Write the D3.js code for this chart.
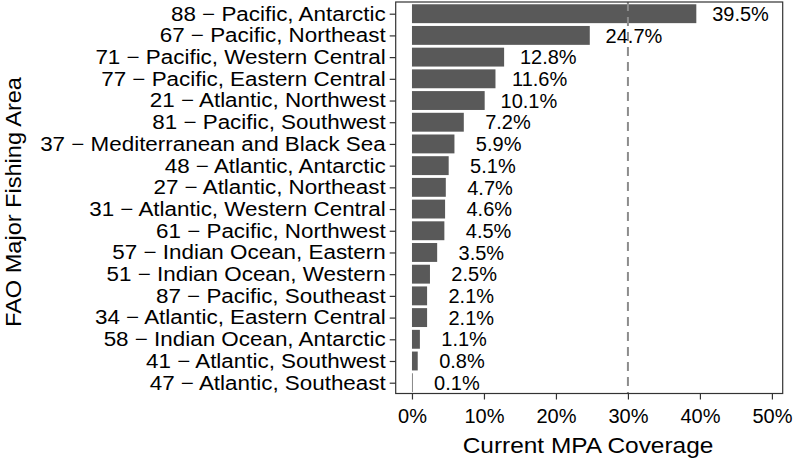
<!DOCTYPE html>
<html><head><meta charset="utf-8">
<script src="https://cdn.jsdelivr.net/npm/d3@7"></script>
<style>body{margin:0;background:#fff}svg{display:block}text{font-family:"Liberation Sans",Arial,sans-serif}</style>
</head><body><svg id="c" width="796" height="461"></svg>
<script>
const categories = ["88 \u2212 Pacific, Antarctic","67 \u2212 Pacific, Northeast","71 \u2212 Pacific, Western Central","77 \u2212 Pacific, Eastern Central","21 \u2212 Atlantic, Northwest","81 \u2212 Pacific, Southwest","37 \u2212 Mediterranean and Black Sea","48 \u2212 Atlantic, Antarctic","27 \u2212 Atlantic, Northeast","31 \u2212 Atlantic, Western Central","61 \u2212 Pacific, Northwest","57 \u2212 Indian Ocean, Eastern","51 \u2212 Indian Ocean, Western","87 \u2212 Pacific, Southeast","34 \u2212 Atlantic, Eastern Central","58 \u2212 Indian Ocean, Antarctic","41 \u2212 Atlantic, Southwest","47 \u2212 Atlantic, Southeast"];
const coverage = [39.5,24.7,12.8,11.6,10.1,7.2,5.9,5.1,4.7,4.6,4.5,3.5,2.5,2.1,2.1,1.1,0.8,0.1];
const xTicks = [0,10,20,30,40,50];
const target = 30;

const FONT = '"Liberation Sans",Arial,sans-serif';
const svg = d3.select("#c");
const panel = {l:395.7, r:782.7, t:2, b:393.5};
const x = d3.scaleLinear().domain([-2.26, 51.5]).range([panel.l, panel.r]);
const y = d3.scalePoint().domain(categories).range([13.7, 382.7]);
const bh = y.step()*0.87;

function stretch(sel, k){
  sel.each(function(){
    const w = this.getComputedTextLength();
    d3.select(this).attr("textLength", w*k).attr("lengthAdjust", "spacingAndGlyphs");
  });
}

svg.append("g").selectAll("rect").data(categories).join("rect")
  .attr("x", x(0)).attr("y", d=>y(d)-bh/2)
  .attr("width", (d,i)=>Math.max(0.6, x(coverage[i])-x(0)))
  .attr("height", bh).attr("fill", "#595959");

svg.append("line").attr("x1", x(target)).attr("x2", x(target))
  .attr("y1", panel.t).attr("y2", panel.b)
  .attr("stroke", "#8c8c8c").attr("stroke-width", 2).attr("stroke-dasharray", "9,6");

svg.append("g").selectAll("text").data(categories).join("text")
  .attr("x", (d,i)=>x(coverage[i] + 6.14))
  .attr("y", d=>y(d)).attr("dy", "0.36em")
  .attr("text-anchor", "middle")
  .attr("font-size", 20).attr("fill", "#000")
  .text((d,i)=>coverage[i].toFixed(1) + "%");

svg.append("rect").attr("x", panel.l).attr("y", panel.t)
  .attr("width", panel.r-panel.l).attr("height", panel.b-panel.t)
  .attr("fill", "none").attr("stroke", "#333").attr("stroke-width", 1.2);

const yAxis = d3.axisLeft(y).tickSize(6).tickPadding(4);
const gy = svg.append("g").attr("transform", `translate(${panel.l},0)`).call(yAxis);
gy.select(".domain").remove();
gy.selectAll(".tick line").attr("stroke", "#333").attr("stroke-width", 1.2);
gy.selectAll(".tick text").attr("font-size", 20).attr("fill", "#000").style("font-family", FONT)
  .call(stretch, 1.12);

const xAxis = d3.axisBottom(x).tickValues(xTicks).tickFormat(d=>d+"%").tickSize(6).tickPadding(4);
const gx = svg.append("g").attr("transform", `translate(0,${panel.b})`).call(xAxis);
gx.select(".domain").remove();
gx.selectAll(".tick line").attr("stroke", "#333").attr("stroke-width", 1.2);
gx.selectAll(".tick text").attr("font-size", 20).attr("fill", "#000").style("font-family", FONT)
  .attr("dy", null).attr("y", 29.8);

svg.append("text").attr("x", 588).attr("y", 453.3)
  .attr("text-anchor", "middle").attr("font-size", 22).attr("fill", "#000")
  .text("Current MPA Coverage").call(stretch, 1.11);
svg.append("text").attr("transform", `translate(20.7,202) rotate(-90)`)
  .attr("text-anchor", "middle").attr("font-size", 22).attr("fill", "#000")
  .text("FAO Major Fishing Area").call(stretch, 1.07);
</script></body></html>
